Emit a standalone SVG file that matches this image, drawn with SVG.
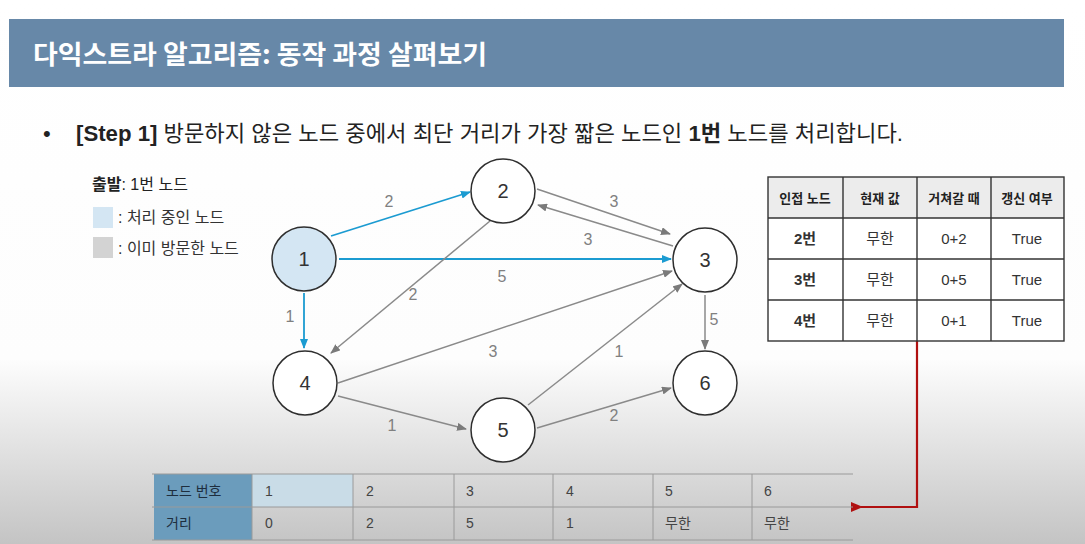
<svg xmlns="http://www.w3.org/2000/svg" width="1085" height="544" viewBox="0 0 1085 544">
<defs>
<linearGradient id="bg" x1="0" y1="0" x2="0" y2="1">
<stop offset="0" stop-color="#ffffff"/>
<stop offset="0.66" stop-color="#fdfdfd"/>
<stop offset="1" stop-color="#c4c4c4"/>
</linearGradient>
<marker id="ag" markerWidth="10" markerHeight="8" refX="9" refY="4" orient="auto" markerUnits="userSpaceOnUse">
<path d="M0,0 L10,4 L0,8 z" fill="#7a7a7a"/>
</marker>
<marker id="ab" markerWidth="10" markerHeight="8" refX="9" refY="4" orient="auto" markerUnits="userSpaceOnUse">
<path d="M0,0 L10,4 L0,8 z" fill="#1b9bd1"/>
</marker>
<marker id="ar" markerWidth="12" markerHeight="10" refX="2" refY="5" orient="auto" markerUnits="userSpaceOnUse">
<path d="M12,0 L0,5 L12,10 z" fill="#b01010"/>
</marker>
</defs>
<style>
.kr{font-family:"Liberation Sans","Noto Sans CJK KR",sans-serif;}
.node{fill:#ffffff;stroke:#2e2e2e;stroke-width:1.5;}
.nl{font-family:"Liberation Sans",sans-serif;font-size:20px;fill:#333;text-anchor:middle;}
.el{font-family:"Liberation Sans",sans-serif;font-size:16px;fill:#808080;text-anchor:middle;}
.eg{stroke:#8a8a8a;stroke-width:1.5;fill:none;marker-end:url(#ag);}
.eb{stroke:#1b9bd1;stroke-width:1.8;fill:none;marker-end:url(#ab);}
.tc{fill:none;stroke:#333;stroke-width:1.4;}
.th{font-family:"Liberation Sans","Noto Sans CJK KR",sans-serif;font-size:13px;font-weight:bold;fill:#222;text-anchor:middle;}
.td{font-family:"Liberation Sans","Noto Sans CJK KR",sans-serif;font-size:15px;fill:#333;text-anchor:middle;}
.bt{font-family:"Liberation Sans","Noto Sans CJK KR",sans-serif;font-size:14px;fill:#444;}
.bl{stroke:#9a9a9a;stroke-width:1;}
</style>
<rect x="0" y="0" width="1085" height="544" fill="url(#bg)"/>
<g id="title">
<rect x="9" y="19" width="1055" height="68" fill="#6788a8"/>
<text x="33" y="64" font-family="'Noto Sans CJK KR',sans-serif" font-size="26" font-weight="bold" fill="#ffffff" textLength="454" lengthAdjust="spacingAndGlyphs">다익스트라 알고리즘: 동작 과정 살펴보기</text>
</g>
<g id="step">
<text x="43" y="141" class="kr" font-size="22" fill="#222">•</text>
<text x="76" y="141" class="kr" font-size="22" fill="#222" textLength="827" lengthAdjust="spacingAndGlyphs"><tspan font-weight="bold">[Step 1]</tspan> 방문하지 않은 노드 중에서 최단 거리가 가장 짧은 노드인 <tspan font-weight="bold">1번</tspan> 노드를 처리합니다.</text>
</g>
<g id="legend">
<text x="92" y="190" class="kr" font-size="16" fill="#222"><tspan font-weight="bold">출발</tspan>: 1번 노드</text>
<rect x="93" y="207" width="20" height="21" fill="#d4e6f3"/>
<text x="118" y="223" class="kr" font-size="16" fill="#333">: 처리 중인 노드</text>
<rect x="93" y="237" width="20" height="21" fill="#d3d3d3"/>
<text x="118" y="254" class="kr" font-size="16" fill="#333">: 이미 방문한 노드</text>
</g>
<g id="connectors">
<line class="eb" x1="331" y1="236" x2="470" y2="192"/>
<line class="eb" x1="339" y1="259" x2="671" y2="259"/>
<line class="eb" x1="304" y1="293" x2="304" y2="348"/>
<line class="eg" x1="537" y1="189" x2="670" y2="234"/>
<line class="eg" x1="673" y1="246" x2="538" y2="205"/>
<line class="eg" x1="490" y1="221" x2="331" y2="353"/>
<line class="eg" x1="338" y1="383" x2="672" y2="271"/>
<line class="eg" x1="338" y1="396" x2="466" y2="429"/>
<line class="eg" x1="528" y1="405" x2="682" y2="284"/>
<line class="eg" x1="537" y1="428" x2="671" y2="388"/>
<line class="eg" x1="705" y1="295" x2="705" y2="349"/>
<text class="el" x="389" y="207">2</text>
<text class="el" x="502" y="282">5</text>
<text class="el" x="290" y="322">1</text>
<text class="el" x="614" y="207">3</text>
<text class="el" x="588" y="245">3</text>
<text class="el" x="413" y="300">2</text>
<text class="el" x="493" y="357">3</text>
<text class="el" x="392" y="431">1</text>
<text class="el" x="619" y="357">1</text>
<text class="el" x="614" y="421">2</text>
<text class="el" x="714" y="325">5</text>
<polyline points="917,341 917,507 861,507" fill="none" stroke="#b01010" stroke-width="2.2" marker-end="url(#ar)"/>
</g>
<g id="node1"><circle class="node" cx="304" cy="259" r="32" style="fill:#d4e6f3"/><text class="nl" x="304" y="266">1</text></g>
<g id="node2"><circle class="node" cx="503" cy="191" r="32"/><text class="nl" x="503" y="198">2</text></g>
<g id="node3"><circle class="node" cx="705" cy="260" r="32"/><text class="nl" x="705" y="267">3</text></g>
<g id="node4"><circle class="node" cx="305" cy="383" r="32"/><text class="nl" x="305" y="390">4</text></g>
<g id="node5"><circle class="node" cx="503" cy="430" r="32"/><text class="nl" x="503" y="437">5</text></g>
<g id="node6"><circle class="node" cx="705" cy="383" r="32"/><text class="nl" x="705" y="390">6</text></g>
<g id="adjTable">
<rect x="768" y="177" width="296" height="41" fill="#ececec"/>
<rect x="768" y="218" width="296" height="123" fill="#ffffff"/>
<rect class="tc" x="768" y="177" width="296" height="164"/>
<line class="tc" x1="768" y1="218" x2="1064" y2="218"/>
<line class="tc" x1="768" y1="259" x2="1064" y2="259"/>
<line class="tc" x1="768" y1="300" x2="1064" y2="300"/>
<line class="tc" x1="843" y1="177" x2="843" y2="341"/>
<line class="tc" x1="917" y1="177" x2="917" y2="341"/>
<line class="tc" x1="991" y1="177" x2="991" y2="341"/>
<text class="th" x="805" y="203">인접 노드</text>
<text class="th" x="880" y="203">현재 값</text>
<text class="th" x="954" y="203">거쳐갈 때</text>
<text class="th" x="1027" y="203">갱신 여부</text>
<text class="td" x="805" y="244" font-weight="bold">2번</text>
<text class="td" x="880" y="244">무한</text>
<text class="td" x="954" y="244">0+2</text>
<text class="td" x="1027" y="244">True</text>
<text class="td" x="805" y="285" font-weight="bold">3번</text>
<text class="td" x="880" y="285">무한</text>
<text class="td" x="954" y="285">0+5</text>
<text class="td" x="1027" y="285">True</text>
<text class="td" x="805" y="326" font-weight="bold">4번</text>
<text class="td" x="880" y="326">무한</text>
<text class="td" x="954" y="326">0+1</text>
<text class="td" x="1027" y="326">True</text>
</g>
<g id="distTable">
<rect x="154" y="474" width="98" height="66" fill="#6b9cbc"/>
<rect x="252" y="474" width="101" height="33" fill="#c9dce7"/>
<line class="bl" x1="152" y1="474" x2="853" y2="474"/>
<line class="bl" x1="152" y1="507" x2="853" y2="507"/>
<line class="bl" x1="152" y1="540" x2="853" y2="540"/>
<line class="bl" x1="252" y1="474" x2="252" y2="540"/>
<line class="bl" x1="353" y1="474" x2="353" y2="540"/>
<line class="bl" x1="454" y1="474" x2="454" y2="540"/>
<line class="bl" x1="553" y1="474" x2="553" y2="540"/>
<line class="bl" x1="653" y1="474" x2="653" y2="540"/>
<line class="bl" x1="752" y1="474" x2="752" y2="540"/>
<text class="bt" x="166" y="496" style="fill:#1e2e3e">노드 번호</text>
<text class="bt" x="166" y="528" style="fill:#1e2e3e">거리</text>
<text class="bt" x="265" y="496">1</text>
<text class="bt" x="366" y="496">2</text>
<text class="bt" x="466" y="496">3</text>
<text class="bt" x="566" y="496">4</text>
<text class="bt" x="665" y="496">5</text>
<text class="bt" x="764" y="496">6</text>
<text class="bt" x="265" y="528">0</text>
<text class="bt" x="366" y="528">2</text>
<text class="bt" x="466" y="528">5</text>
<text class="bt" x="566" y="528">1</text>
<text class="bt" x="665" y="528">무한</text>
<text class="bt" x="764" y="528">무한</text>
</g>
</svg>
